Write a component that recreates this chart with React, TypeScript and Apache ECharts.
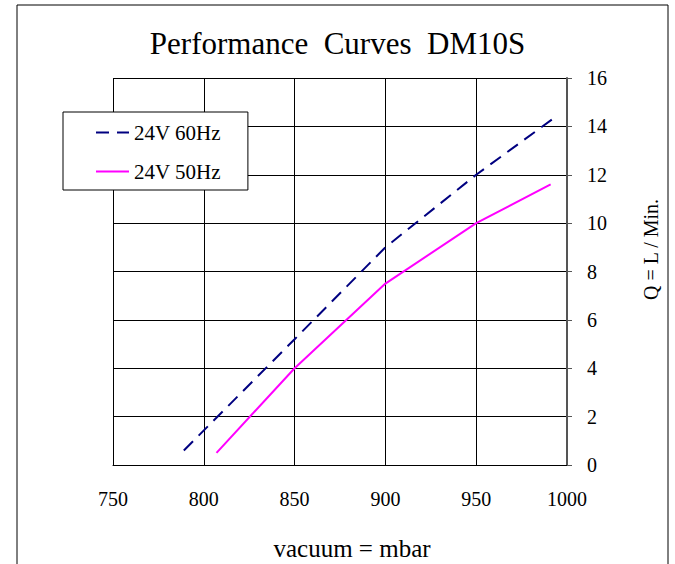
import React, { useEffect, useRef } from "react";
import * as echarts from "echarts";

const titleText = "Performance  Curves  DM10S";
const xAxisName = "vacuum = mbar";
const yAxisName = "Q = L / Min.";
const seriesNames = ["24V 60Hz", "24V 50Hz"];
const hz60X = [789, 850, 900, 950, 992];
const hz60Y = [0.6, 5.2, 9.0, 12.0, 14.3];
const hz50X = [807, 850, 900, 950, 991];
const hz50Y = [0.5, 4.0, 7.5, 10.0, 11.6];

const FONT = "Times New Roman, Liberation Serif, serif";

export default function App() {
  const ref = useRef<HTMLDivElement>(null);
  useEffect(() => {
    if (!ref.current) return;
    const chart = echarts.init(ref.current, undefined, { renderer: "svg" });
    const pairs = (xs: number[], ys: number[]) => xs.map((x, i) => [x, ys[i]]);
    chart.setOption({
      animation: false,
      backgroundColor: "#ffffff",
      textStyle: { fontFamily: FONT, color: "#000" },
      title: {
        text: titleText,
        left: "center",
        top: 23,
        textStyle: { fontFamily: FONT, fontSize: 31, fontWeight: "normal", color: "#000" },
      },
      graphic: [
        {
          type: "rect",
          shape: { x: 17, y: 5, width: 651, height: 620 },
          style: { fill: "none", stroke: "#000", lineWidth: 1 },
          silent: true,
          z: -1,
        },
      ],
      legend: {
        left: 63,
        top: 112,
        orient: "vertical",
        backgroundColor: "#fff",
        borderColor: "#000",
        borderWidth: 1,
        padding: [10, 27, 8, 32],
        itemWidth: 33,
        itemHeight: 14,
        itemGap: 18,
        itemStyle: { opacity: 0 },
        textStyle: { fontFamily: FONT, fontSize: 21, color: "#000" },
        data: seriesNames,
        z: 10,
      },
      grid: { left: 113, right: 108, top: 78, bottom: 99, containLabel: false, outerBoundsMode: "none" },
      xAxis: {
        type: "value",
        min: 750,
        max: 1000,
        interval: 50,
        name: xAxisName,
        nameLocation: "middle",
        nameGap: 71,
        nameTextStyle: { fontFamily: FONT, fontSize: 25, color: "#000", padding: [0, 0, 0, 24] },
        axisLine: { show: true, lineStyle: { color: "#000", width: 1 } },
        axisTick: { show: false },
        axisLabel: {
          fontFamily: FONT,
          fontSize: 20,
          color: "#000",
          margin: 24,
          formatter: (v: number) => String(v),
        },
        splitLine: { show: true, lineStyle: { color: "#000", width: 1 } },
      },
      yAxis: {
        type: "value",
        position: "right",
        min: 0,
        max: 16,
        interval: 2,
        name: yAxisName,
        nameLocation: "middle",
        nameRotate: 90,
        nameGap: 74,
        nameTextStyle: { fontFamily: FONT, fontSize: 20, color: "#000", padding: [0, 0, 0, 44] },
        axisLine: { show: true, lineStyle: { color: "#555", width: 2 } },
        axisTick: { show: true, length: 5, lineStyle: { color: "#555", width: 1 } },
        axisLabel: { fontFamily: FONT, fontSize: 20, color: "#000", margin: 20 },
        splitLine: { show: true, lineStyle: { color: "#000", width: 1 } },
      },
      series: [
        {
          name: seriesNames[0],
          type: "line",
          data: pairs(hz60X, hz60Y),
          symbol: "none",
          lineStyle: { color: "#000080", width: 2, type: [13, 8] },
          itemStyle: { color: "#000080" },
        },
        {
          name: seriesNames[1],
          type: "line",
          data: pairs(hz50X, hz50Y),
          symbol: "none",
          lineStyle: { color: "#ff00ff", width: 2, type: "solid" },
          itemStyle: { color: "#ff00ff" },
        },
      ],
    });
    return () => chart.dispose();
  }, []);
  return (
    <div
      ref={ref}
      style={{ position: "absolute", left: 0, top: 0, width: 675, height: 564 }}
    />
  );
}
